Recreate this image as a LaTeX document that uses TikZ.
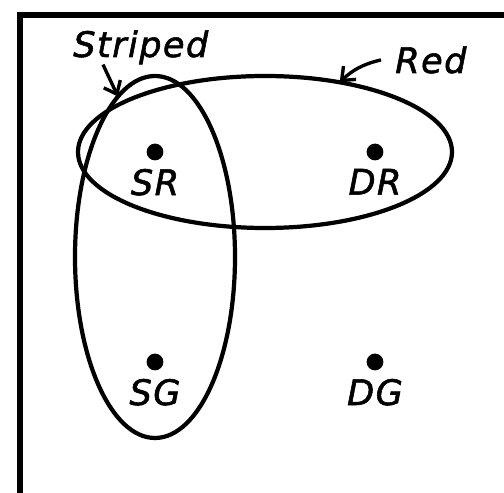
\documentclass[tikz,border=0pt]{standalone}
\usepackage{fontspec}
\setsansfont{DejaVu Sans}[FakeBold=1.6, LetterSpace=4]
\usepackage{tikz}
\usetikzlibrary{arrows.meta, positioning, shapes.geometric}

\begin{document}
\begin{tikzpicture}[
    spot/.style={circle, fill, inner sep=0pt, minimum size=0.42cm},
    lab/.style={inner sep=0pt, font=\sffamily\itshape\fontsize{25}{30}\selectfont},
    ring/.style={ellipse, draw, line width=3pt, inner sep=0pt, outer sep=0pt},
    pointer/.style={line width=2.4pt, -{Straight Barb[length=8pt,width=13pt]}}]
  \useasboundingbox (0,0) rectangle (12.6,12.325);
  % frame
  \draw[line width=3.6pt] (12.6,11.95) -- (0.5,11.95) -- (0.5,0);
  % sets
  \node[ring, minimum width=9.35cm, minimum height=3.8cm] (red) at (6.625,8.525) {};
  \node[ring, minimum width=4cm, minimum height=9.05cm] (striped) at (3.875,5.9) {};
  % elements
  \node[spot] (SR) at (3.875,8.525) {};
  \node[spot] (DR) at (9.375,8.525) {};
  \node[spot] (SG) at (3.875,3.275) {};
  \node[spot] (DG) at (9.375,3.275) {};
  \node[lab, below=0.2cm of SR] (SRlab) {SR};
  \node[lab, below=0.2cm of DR] (DRlab) {DR};
  \node[lab, below=0.2cm of SG] (SGlab) {SG};
  \node[lab, below=0.2cm of DG] (DGlab) {DG};
  % set names
  \node[lab, anchor=base west] (Stripedlab) at (1.825,10.9) {Striped};
  \node[lab, anchor=base west] (Redlab) at (9.875,10.5) {Red};
  \draw[pointer] ([xshift=0.75cm]Stripedlab.south west) -- (striped.103);
  \draw[pointer] ([xshift=-0.35cm]Redlab.west) to[bend right=15] (red.43);
\end{tikzpicture}
\end{document}
